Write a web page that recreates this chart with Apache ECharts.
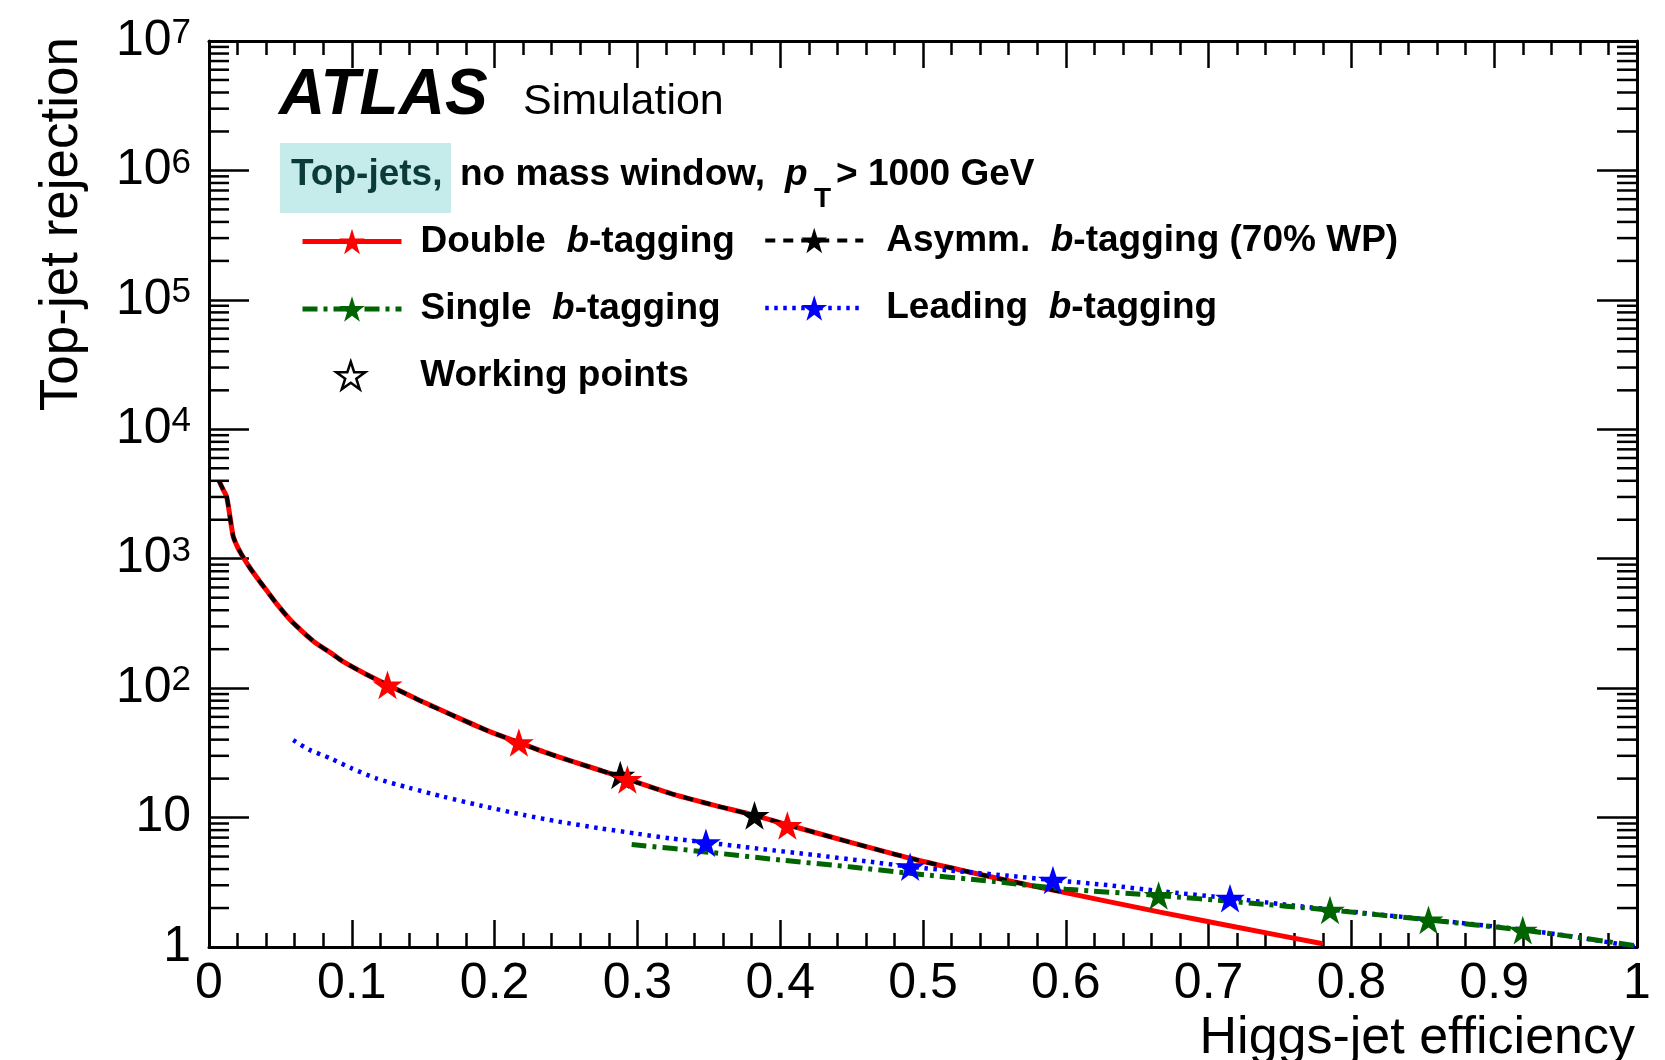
<!DOCTYPE html>
<html>
<head>
<meta charset="utf-8">
<title>Top-jet rejection vs Higgs-jet efficiency</title>
<script src="https://cdn.jsdelivr.net/npm/echarts@6/dist/echarts.min.js"></script>
<style>
  html, body { margin: 0; padding: 0; background: #fff; }
  #chart { width: 1665px; height: 1060px; }
</style>
</head>
<body>
<div id="chart"></div>
<script>
const FONT = '"Liberation Sans", Arial, Helvetica, sans-serif';

// Axis ticks
const xTickLabels = ['0', '0.1', '0.2', '0.3', '0.4', '0.5', '0.6', '0.7', '0.8', '0.9', '1'];
const yTickExponents = [0, 1, 2, 3, 4, 5, 6, 7];
// log-axis minor ticks sit at 2..9 times each decade
const yMinorMultipliers = [2, 3, 4, 5, 6, 7, 8, 9];

// Rejection curves: [Higgs-jet efficiency, top-jet rejection]
const doubleCurve = [
  [0.007, 4000], [0.010, 3400], [0.0124, 3000], [0.015, 2000], [0.017, 1480],
  [0.020, 1230], [0.023, 1070], [0.029, 840], [0.035, 680], [0.040, 575],
  [0.048, 440], [0.057, 336], [0.066, 270], [0.075, 222], [0.085, 188],
  [0.094, 160], [0.110, 128], [0.125, 106], [0.150, 78], [0.173, 60],
  [0.195, 47], [0.217, 38], [0.235, 32], [0.255, 27], [0.275, 23],
  [0.293, 19.8], [0.323, 15.4], [0.352, 12.6], [0.382, 10.4], [0.405, 8.8],
  [0.450, 6.4], [0.491, 4.85], [0.530, 3.85], [0.560, 3.25], [0.591, 2.75],
  [0.630, 2.24], [0.666, 1.86], [0.720, 1.42], [0.780, 1.06]
];
const asymmCurve = [
  [0.007, 4000], [0.010, 3400], [0.0124, 3000], [0.015, 2000], [0.017, 1480],
  [0.020, 1230], [0.023, 1070], [0.029, 840], [0.035, 680], [0.040, 575],
  [0.048, 440], [0.057, 336], [0.066, 270], [0.075, 222], [0.085, 188],
  [0.094, 160], [0.110, 128], [0.125, 106], [0.150, 78], [0.173, 60],
  [0.195, 47], [0.217, 38], [0.235, 32], [0.255, 27], [0.275, 23],
  [0.293, 19.8], [0.323, 15.4], [0.352, 12.6], [0.382, 10.4], [0.405, 8.8],
  [0.450, 6.4], [0.491, 4.85], [0.530, 3.85], [0.560, 3.25], [0.591, 2.75],
  [0.600, 2.62]
];
const singleCurve = [
  [0.296, 6.2], [0.350, 5.4], [0.400, 4.7], [0.450, 4.15], [0.490, 3.72],
  [0.550, 3.2], [0.600, 2.8], [0.665, 2.5], [0.720, 2.23], [0.785, 1.93],
  [0.854, 1.62], [0.920, 1.35], [0.960, 1.18], [1.000, 1.02]
];
const leadingCurve = [
  [0.059, 39.7], [0.070, 33.5], [0.085, 28.7], [0.100, 24], [0.117, 20.1],
  [0.140, 17], [0.164, 14.5], [0.190, 12.4], [0.220, 10.5], [0.245, 9.3],
  [0.274, 8.26], [0.300, 7.5], [0.323, 6.91], [0.348, 6.43], [0.385, 5.75],
  [0.424, 5.14], [0.460, 4.6], [0.491, 4.17], [0.530, 3.8], [0.560, 3.55],
  [0.591, 3.29], [0.630, 3.0], [0.666, 2.7], [0.715, 2.38], [0.750, 2.15],
  [0.785, 1.95], [0.820, 1.78], [0.854, 1.63], [0.890, 1.48], [0.920, 1.36],
  [0.960, 1.18], [1.000, 1.0]
];

// Working points on each curve
const doubleWP = [[0.125, 106], [0.217, 38], [0.293, 19.7], [0.405, 8.7]];
const asymmWP = [[0.288, 21.3], [0.382, 10.4]];
const leadingWP = [[0.348, 6.4], [0.491, 4.17], [0.591, 3.29], [0.715, 2.38]];
const singleWP = [[0.665, 2.5], [0.785, 1.93], [0.854, 1.62], [0.920, 1.35]];

const STAR = 'path://M50,0L61.2,34.5L97.6,34.5L68.2,55.9L79.4,90.5L50,69.1L20.6,90.5L31.8,55.9L2.4,34.5L38.8,34.5Z';

const RED = '#ff0000', BLACK = '#000000', GREEN = '#006400', BLUE = '#0000ff';
const STAR_SIZE = 30;

const yMinorTicks = [];
yTickExponents.slice(0, -1).forEach(e => {
  yMinorMultipliers.forEach(m => yMinorTicks.push([0, m * Math.pow(10, e)]));
});

const X_MAJOR_LEN = 27, X_MINOR_LEN = 14, Y_MAJOR_LEN = 40, Y_MINOR_LEN = 20;
const TICK_STYLE = { color: '#000', width: 2.5 };

function renderMinorTick(params, api) {
  const v = api.value(1);
  const l = api.coord([0, v]);
  const r = api.coord([1, v]);
  const style = { stroke: '#000', lineWidth: 2.5 };
  return {
    type: 'group',
    children: [
      { type: 'line', shape: { x1: l[0], y1: l[1], x2: l[0] + Y_MINOR_LEN, y2: l[1] }, style },
      { type: 'line', shape: { x1: r[0] - Y_MINOR_LEN, y1: r[1], x2: r[0], y2: r[1] }, style }
    ]
  };
}

function legendFormatter(name) {
  return name.replace(' b-tagging', '  {i|b}-tagging');
}
function legendText(padLeft, lineHeight) {
  return {
    fontFamily: FONT, fontSize: 37, fontWeight: 'bold', color: '#000',
    lineHeight: lineHeight, padding: [0, 0, 0, padLeft],
    rich: {
      i: { fontFamily: FONT, fontSize: 37, fontWeight: 'bold', fontStyle: 'italic', color: '#000', lineHeight: lineHeight }
    }
  };
}

function xAxisDef(position, showLabels) {
  return {
    type: 'value', position: position, min: 0, max: 1, interval: 0.1,
    axisLine: { show: true, onZero: false, lineStyle: { color: '#000', width: 3 } },
    axisTick: { show: true, inside: true, length: X_MAJOR_LEN, lineStyle: TICK_STYLE },
    minorTick: { show: true, splitNumber: 5, length: X_MINOR_LEN, lineStyle: TICK_STYLE },
    splitLine: { show: false },
    axisLabel: {
      show: showLabels, margin: 12, color: '#000', fontFamily: FONT, fontSize: 50,
      formatter: v => xTickLabels[Math.round(v * 10)]
    }
  };
}
function yAxisDef(position, showLabels) {
  return {
    type: 'log', logBase: 10, position: position, min: 1, max: 1e7, interval: 1,
    axisLine: { show: true, onZero: false, lineStyle: { color: '#000', width: 3 } },
    axisTick: { show: true, inside: true, length: Y_MAJOR_LEN, lineStyle: TICK_STYLE },
    splitLine: { show: false },
    axisLabel: {
      show: showLabels, margin: 18, color: '#000', fontFamily: FONT, fontSize: 50,
      formatter: v => {
        const e = Math.round(Math.log10(v));
        if (e === 0) return '1';
        if (e === 1) return '10';
        return '{b|10}{s|' + e + '}';
      },
      rich: {
        b: { fontFamily: FONT, fontSize: 50, color: '#000', lineHeight: 50, padding: [12, 0, 0, 0], verticalAlign: 'bottom' },
        s: { fontFamily: FONT, fontSize: 35, color: '#000', lineHeight: 35, verticalAlign: 'top' }
      }
    }
  };
}

function txt(x, y, text, font, extra) {
  return Object.assign({
    type: 'text', x: x, y: y, silent: true,
    style: { text: text, font: font, fill: '#000', textAlign: 'left', textVerticalAlign: 'middle', align: 'left', verticalAlign: 'middle' }
  }, extra || {});
}

const chart = echarts.init(document.getElementById('chart'), null, { renderer: 'canvas' });

const lineCommon = { type: 'line', silent: true, showSymbol: false, symbol: STAR, symbolKeepAspect: true, smooth: 0.25, z: 2 };
const starCommon = { type: 'scatter', silent: true, symbol: STAR, symbolSize: STAR_SIZE, symbolKeepAspect: true, z: 3 };
const legendLine = { width: 'inherit', type: 'inherit', color: 'inherit' };

chart.setOption({
  animation: false,
  backgroundColor: '#fff',
  grid: { left: 209, top: 41, width: 1428, height: 906, containLabel: false },
  xAxis: [xAxisDef('bottom', true), xAxisDef('top', false)],
  yAxis: [yAxisDef('left', true), yAxisDef('right', false)],
  legend: [
    {
      data: ['Double b-tagging', 'Single b-tagging'],
      left: 300, top: 223, orient: 'vertical', padding: 0,
      itemWidth: 99, itemHeight: 32, itemGap: 30.5, selectedMode: false,
      lineStyle: legendLine,
      formatter: legendFormatter, textStyle: legendText(14, 32)
    },
    {
      data: ['Asymm. b-tagging (70% WP)', 'Leading b-tagging'],
      left: 763, top: 222, orient: 'vertical', padding: 0,
      itemWidth: 98, itemHeight: 32, itemGap: 30.5, selectedMode: false,
      lineStyle: legendLine,
      formatter: legendFormatter, textStyle: legendText(18, 32)
    },
    {
      data: [{ name: 'Working points', icon: STAR, itemStyle: { color: '#fff', borderColor: '#000', borderWidth: 2.5 } }],
      left: 335, top: 357, orient: 'vertical', padding: 0,
      itemWidth: 29, itemHeight: 29, selectedMode: false,
      textStyle: legendText(50, 29)
    }
  ],
  graphic: [
    { type: 'rect', shape: { x: 280, y: 143, width: 171, height: 70 }, style: { fill: '#c5ebea' }, silent: true },
    txt(291, 174.5, 'Top-jets,', 'bold 37px ' + FONT, { style: { text: 'Top-jets,', font: 'bold 37px ' + FONT, fill: '#0b3a3a', textVerticalAlign: 'middle', verticalAlign: 'middle' } }),
    txt(460, 174.5, 'no mass window,', 'bold 37px ' + FONT),
    txt(785, 174.5, 'p', 'italic bold 37px ' + FONT),
    txt(814, 199, 'T', 'bold 28px ' + FONT),
    txt(836, 174.5, '> 1000 GeV', 'bold 37px ' + FONT),
    txt(279, 96.5, 'ATLAS', 'italic bold 64px ' + FONT),
    txt(523, 102.5, 'Simulation', '43px ' + FONT),
    txt(1635, 1039, 'Higgs-jet efficiency', '52px ' + FONT,
      { style: { text: 'Higgs-jet efficiency', font: '52px ' + FONT, fill: '#000', textAlign: 'right', align: 'right', textVerticalAlign: 'middle', verticalAlign: 'middle' } }),
    txt(62, 37, 'Top-jet rejection', '53px ' + FONT,
      { rotation: Math.PI / 2, style: { text: 'Top-jet rejection', font: '53px ' + FONT, fill: '#000', textAlign: 'right', align: 'right', textVerticalAlign: 'middle', verticalAlign: 'middle' } })
  ],
  series: [
    Object.assign({}, lineCommon, {
      name: 'Double b-tagging', data: doubleCurve,
      lineStyle: { color: RED, width: 5 }, itemStyle: { color: RED }
    }),
    Object.assign({}, lineCommon, {
      name: 'Asymm. b-tagging (70% WP)', data: asymmCurve,
      lineStyle: { color: BLACK, width: 4, type: [10, 8] }, itemStyle: { color: BLACK }
    }),
    Object.assign({}, lineCommon, {
      name: 'Leading b-tagging', data: leadingCurve,
      lineStyle: { color: BLUE, width: 4.5, type: [3.5, 5.5] }, itemStyle: { color: BLUE }
    }),
    Object.assign({}, lineCommon, {
      name: 'Single b-tagging', data: singleCurve,
      lineStyle: { color: GREEN, width: 5, type: [15, 6, 4, 6] }, itemStyle: { color: GREEN }
    }),
    Object.assign({}, starCommon, {
      name: 'Asymm. working points', data: asymmWP, itemStyle: { color: BLACK, opacity: 1 }
    }),
    Object.assign({}, starCommon, {
      name: 'Double working points', data: doubleWP, itemStyle: { color: RED, opacity: 1 }
    }),
    Object.assign({}, starCommon, {
      name: 'Leading working points', data: leadingWP, itemStyle: { color: BLUE, opacity: 1 }
    }),
    Object.assign({}, starCommon, {
      name: 'Single working points', data: singleWP, itemStyle: { color: GREEN, opacity: 1 }
    }),
    Object.assign({}, starCommon, {
      name: 'Working points', data: [],
      itemStyle: { color: '#fff', borderColor: '#000', borderWidth: 2.5, opacity: 1 }
    }),
    {
      name: 'log minor ticks', type: 'custom', data: yMinorTicks, silent: true,
      encode: { x: 0, y: 1 }, renderItem: renderMinorTick, z: 5
    }
  ]
});
</script>
</body>
</html>
